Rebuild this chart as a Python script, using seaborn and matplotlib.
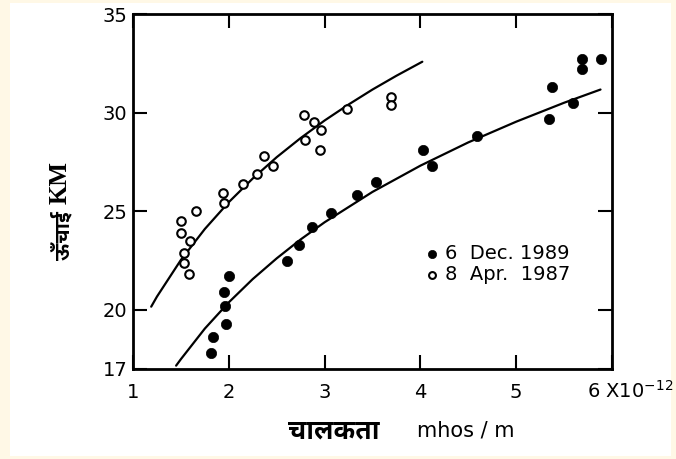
import numpy as np
import pandas as pd
import matplotlib
matplotlib.use("Agg")
import matplotlib.pyplot as plt
import seaborn as sns
from matplotlib import font_manager
from matplotlib.ft2font import FT2Font
from matplotlib.patches import Rectangle

# ---------------- data ----------------
dec_x = [1.81, 1.84, 1.97, 1.96, 1.95, 2.00, 2.61, 2.73, 2.87, 3.07, 3.34, 3.54,
         4.03, 4.12, 4.59, 5.34, 5.37, 5.59, 5.69, 5.69, 5.88]
dec_y = [17.8, 18.6, 19.3, 20.2, 20.9, 21.7, 22.5, 23.3, 24.2, 24.9, 25.8, 26.5,
         28.1, 27.3, 28.8, 29.7, 31.3, 30.5, 32.2, 32.7, 32.7]

apr_x = [1.50, 1.50, 1.66, 1.59, 1.53, 1.53, 1.58, 1.94, 1.95, 2.15, 2.29, 2.37,
         2.46, 2.79, 2.89, 2.96, 2.80, 2.95, 3.23, 3.69, 3.69]
apr_y = [24.5, 23.9, 25.0, 23.5, 22.9, 22.4, 21.8, 25.9, 25.4, 26.4, 26.9, 27.8,
         27.3, 29.9, 29.5, 29.1, 28.6, 28.1, 30.2, 30.8, 30.4]

# fitted curves as drawn in the figure
apr_curve_x = [1.19, 1.25, 1.5, 1.75, 2.0, 2.25, 2.5, 2.75, 3.0, 3.25, 3.5, 3.75, 4.02]
apr_curve_y = [20.16, 20.67, 22.53, 24.10, 25.46, 26.66, 27.74, 28.71, 29.60, 30.41,
               31.17, 31.87, 32.58]
dec_curve_x = [1.45, 1.5, 1.75, 2.0, 2.25, 2.5, 2.75, 3.0, 3.5, 4.0, 4.5, 5.0, 5.5, 5.88]
dec_curve_y = [17.17, 17.50, 19.05, 20.38, 21.56, 22.61, 23.57, 24.44, 25.98, 27.31,
               28.49, 29.54, 30.50, 31.17]

x_ticks = [1, 2, 3, 4, 5, 6]
x_ticklabels = ["1", "2", "3", "4", "5", ""]
y_ticks = [17, 20, 25, 30, 35]
y_ticklabels = ["17", "20", "25", "30", "35"]
legend_labels = ["6  Dec. 1989", "8  Apr.  1987"]
xlabel_hi = "चालकता"
xlabel_unit = "mhos / m"
ylabel_hi = "ऊँचाई"
ylabel_unit = "KM"
x_scale_label = "6 X10$^{-12}$"

# ---------------- fonts ----------------
def find_font(ch):
    cands = []
    for f in font_manager.fontManager.ttflist:
        try:
            if ord(ch) in FT2Font(f.fname).get_charmap():
                cands.append(f)
        except Exception:
            pass
    if not cands:
        return None
    def score(f):
        s = 0
        n = f.name.lower()
        if "sans" in n:
            s += 4
        if "serif" in n and "sans" not in n:
            s -= 3
        if "noto" in n:
            s += 2
        if f.weight in ("bold", 700):
            s += 1
        return -s
    cands.sort(key=score)
    return cands[0].name

deva = find_font("च") or "DejaVu Sans"

sns.set_style("ticks")
plt.rcParams["font.family"] = ["DejaVu Sans"]
plt.rcParams["mathtext.fontset"] = "dejavusans"
plt.rcParams["text.color"] = "black"
plt.rcParams["legend.labelcolor"] = "black"

fig = plt.figure(figsize=(6.76, 4.59), dpi=100)
fig.patch.set_facecolor("#FFF8E6")
fig.add_artist(Rectangle((10 / 676, 3 / 459), 661 / 676, 453 / 459,
                         transform=fig.transFigure, facecolor="white",
                         edgecolor="none", zorder=0))
ax = fig.add_axes([133 / 676, 90 / 459, 479 / 676, 355 / 459])
ax.set_facecolor("white")

sns.lineplot(x=apr_curve_x, y=apr_curve_y, ax=ax, color="black", lw=1.6,
             legend=False, sort=False)
sns.lineplot(x=dec_curve_x, y=dec_curve_y, ax=ax, color="black", lw=1.6,
             legend=False, sort=False)
sns.scatterplot(x=dec_x, y=dec_y, ax=ax, color="black", edgecolor="black",
                s=55, linewidth=0.5, label=legend_labels[0], zorder=3)
sns.scatterplot(x=apr_x, y=apr_y, ax=ax, facecolor="white", edgecolor="black",
                s=38, linewidth=1.5, label=legend_labels[1], zorder=3)

ax.set_xlim(1, 6)
ax.set_ylim(17, 35)
ax.set_xticks(x_ticks)
ax.set_xticklabels(x_ticklabels)
ax.set_yticks(y_ticks)
ax.set_yticklabels(y_ticklabels)
ax.tick_params(direction="in", length=10, width=1.5, top=True, right=True,
               labelsize=14, colors="black")
ax.tick_params(axis="x", pad=10)
ax.tick_params(axis="y", pad=4)
for sp in ax.spines.values():
    sp.set_visible(True)
    sp.set_linewidth(2)
    sp.set_color("black")
ax.set_xlabel("")
ax.set_ylabel("")

ax.annotate(x_scale_label, xy=(6, 17), xycoords="data", xytext=(-18, -20.5),
            textcoords="offset points", ha="left", va="baseline", fontsize=14,
            color="black")

leg = ax.legend(loc="upper left", bbox_to_anchor=(0.612, 0.352), frameon=False,
                fontsize=14, handletextpad=0.35, labelspacing=0.12,
                handlelength=0.6, borderpad=0, borderaxespad=0, markerscale=0.8)
for t in leg.get_texts():
    t.set_color("black")

fig.text(334 / 676, 1 - 432 / 459, xlabel_hi, family=[deva, "DejaVu Sans"],
         fontweight="bold", fontsize=19, ha="center", va="center", color="black")
fig.text(466 / 676, 1 - 430 / 459, xlabel_unit, fontsize=15,
         ha="center", va="center", color="black")
fig.text(60 / 676, 1 - 183 / 459, ylabel_unit, family=["Liberation Serif"],
         fontweight="bold", fontsize=18, rotation=90, ha="center", va="center",
         color="black")
fig.text(62 / 676, 1 - 236 / 459, ylabel_hi, family=[deva, "DejaVu Sans"],
         fontweight="bold", fontsize=15, rotation=90, ha="center", va="center",
         color="black")

fig.savefig("out.png", dpi=100, facecolor=fig.get_facecolor())
